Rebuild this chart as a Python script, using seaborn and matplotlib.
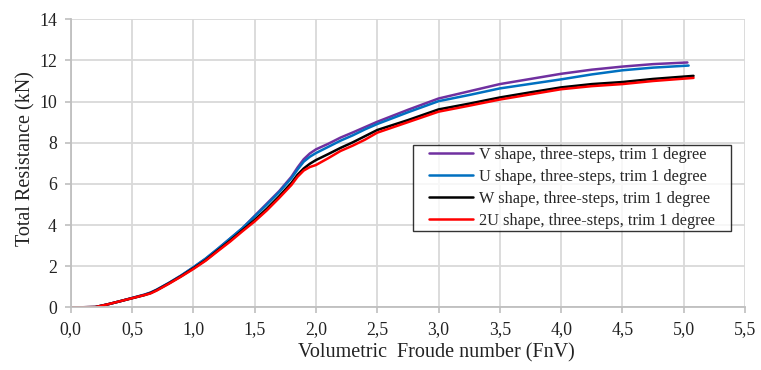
import numpy as np
import pandas as pd
import matplotlib
matplotlib.use("Agg")
import matplotlib.pyplot as plt
from matplotlib.ticker import FuncFormatter
from matplotlib.path import Path
import seaborn as sns

labels = ["V shape, three-steps, trim 1 degree",
          "U shape, three-steps, trim 1 degree",
          "W shape, three-steps, trim 1 degree",
          "2U shape, three-steps, trim 1 degree"]
colors = ["#7030A0", "#0070C0", "#000000", "#FF0000"]

x_common = [0.0, 0.2, 0.3, 0.4, 0.5, 0.6, 0.65, 0.7, 0.8, 0.9, 1.0, 1.1, 1.2, 1.3, 1.4,
            1.5, 1.6, 1.7, 1.8, 1.85, 1.9, 1.95, 2.0, 2.1, 2.2, 2.3, 2.4, 2.5,
            2.75, 3.0, 3.25, 3.5, 3.75, 4.0, 4.25, 4.5, 4.75]

v_shape = [0.0, 0.02, 0.15, 0.30, 0.46, 0.62, 0.72, 0.86, 1.19, 1.55, 1.95, 2.37, 2.85, 3.35, 3.85,
           4.45, 5.05, 5.65, 6.35, 6.80, 7.20, 7.48, 7.68, 7.95, 8.25, 8.50, 8.76, 9.02,
           9.60, 10.15, 10.50, 10.85, 11.10, 11.35, 11.55, 11.70, 11.82]
u_shape = [0.0, 0.02, 0.15, 0.30, 0.46, 0.62, 0.72, 0.86, 1.19, 1.55, 1.95, 2.37, 2.85, 3.35, 3.85,
           4.42, 5.00, 5.60, 6.28, 6.70, 7.08, 7.32, 7.50, 7.80, 8.10, 8.36, 8.65, 8.91,
           9.48, 10.02, 10.32, 10.64, 10.86, 11.08, 11.32, 11.52, 11.65]
w_shape = [0.0, 0.02, 0.15, 0.30, 0.45, 0.60, 0.70, 0.84, 1.17, 1.52, 1.90, 2.30, 2.78, 3.25, 3.75,
           4.25, 4.80, 5.40, 6.05, 6.45, 6.75, 6.98, 7.16, 7.45, 7.75, 8.02, 8.32, 8.62,
           9.10, 9.62, 9.90, 10.20, 10.45, 10.69, 10.85, 10.95, 11.10]
u2_shape = [0.0, 0.02, 0.15, 0.30, 0.45, 0.60, 0.68, 0.82, 1.15, 1.50, 1.87, 2.27, 2.74, 3.20, 3.70,
            4.18, 4.72, 5.32, 5.95, 6.35, 6.65, 6.82, 6.92, 7.25, 7.60, 7.86, 8.15, 8.49,
            9.00, 9.51, 9.80, 10.10, 10.35, 10.60, 10.75, 10.85, 11.00]
end_x = [5.03, 5.04, 5.08, 5.08]
end_y = [11.90, 11.75, 11.25, 11.15]

xticks = [0.0, 0.5, 1.0, 1.5, 2.0, 2.5, 3.0, 3.5, 4.0, 4.5, 5.0, 5.5]
yticks = [0, 2, 4, 6, 8, 10, 12, 14]

series = [v_shape, u_shape, w_shape, u2_shape]
frames = []
for lab, ys, ex, ey in zip(labels, series, end_x, end_y):
    frames.append(pd.DataFrame({"FnV": list(x_common) + [ex],
                                "R": list(ys) + [ey],
                                "series": lab}))
df = pd.concat(frames, ignore_index=True)

sns.set_style("white")
plt.rcParams["font.family"] = ["Liberation Serif", "DejaVu Serif"]

fig = plt.figure(figsize=(7.61, 3.70), dpi=100)
ax = fig.add_axes([0.093, 0.169, 0.886, 0.779])

sns.lineplot(data=df, x="FnV", y="R", hue="series", hue_order=labels,
             palette=dict(zip(labels, colors)), sort=False, linewidth=1.8,
             estimator=None, ax=ax)

ax.set_xlim(0, 5.5)
ax.set_ylim(0, 14)
ax.set_xticks(xticks)
ax.set_yticks(yticks)
ax.xaxis.set_major_formatter(FuncFormatter(lambda v, p: f"{v:.1f}".replace(".", ",")))
ax.yaxis.set_major_formatter(FuncFormatter(lambda v, p: f"{v:.0f}"))
ax.grid(True, color="#d9d9d9", linewidth=1.3)
ax.set_axisbelow(True)
for s in ["top", "right"]:
    ax.spines[s].set_visible(False)
for s in ["left", "bottom"]:
    ax.spines[s].set_color("#bfbfbf")
    ax.spines[s].set_linewidth(1.3)
ax.tick_params(axis="both", which="both", direction="out", length=4, width=1.2,
               color="#bfbfbf", labelsize=12.8, labelcolor="#222222", pad=6,
               left=True, bottom=True)

ax.set_xlabel("Volumetric  Froude number (FnV)", fontsize=14.5, color="#222222")
ax.set_ylabel("Total Resistance (kN)", fontsize=14.5, color="#222222")
ax.xaxis.set_label_coords(0.5425, -0.124)
ax.yaxis.set_label_coords(-0.053, 0.517)

# legend with wider horizontal padding (Excel-like box)
HPAD = 14.0  # extra pixels on left and right of the legend frame


def wide_box(x0, y0, width, height, mutation_size):
    xa, xb = x0 - HPAD, x0 + width + HPAD
    ya, yb = y0, y0 + height
    return Path([(xa, ya), (xb, ya), (xb, yb), (xa, yb), (xa, ya)],
                closed=True)


box_left_frac = (413 - 70.7 + HPAD) / 674.3
leg = ax.legend(loc="upper left", bbox_to_anchor=(box_left_frac, 0.5635), borderaxespad=0,
                fancybox=False, frameon=True, edgecolor="black", fontsize=11.7,
                handlelength=2.7, handletextpad=0.37, labelspacing=0.36,
                borderpad=0.12, title=None)
leg.get_frame().set_boxstyle(wide_box)
leg.get_frame().set_linewidth(1.0)

fig.savefig("out.png", dpi=100)
